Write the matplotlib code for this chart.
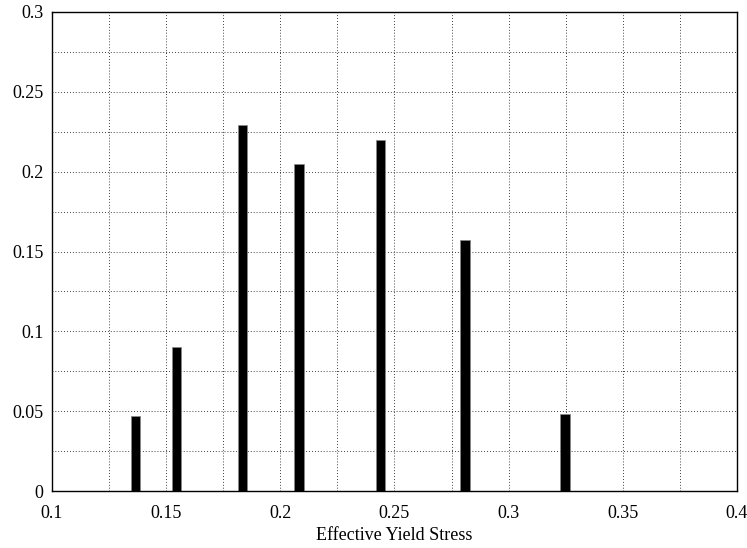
import numpy as np
import matplotlib.pyplot as plt
from matplotlib.ticker import MultipleLocator

# bar positions (effective yield stress) and heights
stress = [0.1366, 0.1546, 0.1834, 0.2081, 0.2439, 0.2809, 0.3246]
fraction = [0.047, 0.090, 0.229, 0.205, 0.220, 0.157, 0.048]

x_ticks = [0.1, 0.15, 0.2, 0.25, 0.3, 0.35, 0.4]
x_labels = ["0.1", "0.15", "0.2", "0.25", "0.3", "0.35", "0.4"]
y_ticks = [0, 0.05, 0.1, 0.15, 0.2, 0.25, 0.3]
y_labels = ["0", "0.05", "0.1", "0.15", "0.2", "0.25", "0.3"]


def main():
    plt.rcParams['font.family'] = ['Liberation Serif', 'DejaVu Serif']
    fig = plt.figure(figsize=(7.47, 5.48), dpi=100)
    ax = fig.add_axes([52/747, 1-491/548, (737-52)/747, (491-12)/548])

    ax.bar(stress, fraction, width=0.0042, color="black",
           edgecolor="#888888", linewidth=0.5, zorder=3)

    ax.set_xlim(0.1, 0.4)
    ax.set_ylim(0, 0.3)
    ax.set_xticks(x_ticks)
    ax.set_xticklabels(x_labels)
    ax.set_yticks(y_ticks)
    ax.set_yticklabels(y_labels)
    ax.xaxis.set_minor_locator(MultipleLocator(0.025))
    ax.yaxis.set_minor_locator(MultipleLocator(0.025))
    ax.grid(which="both", color="black", linestyle=(0, (1, 2.5)), linewidth=0.6)
    ax.set_axisbelow(True)
    ax.tick_params(which="both", direction="in", length=0, labelsize=13)
    ax.tick_params(axis="x", pad=10)
    ax.tick_params(axis="y", pad=6)
    for s in ax.spines.values():
        s.set_linewidth(1.0)
        s.set_zorder(4)

    ax.set_xlabel("Effective Yield Stress", fontsize=13, labelpad=4)
    fig.savefig("out.png", dpi=100)


if __name__ == "__main__":
    main()
